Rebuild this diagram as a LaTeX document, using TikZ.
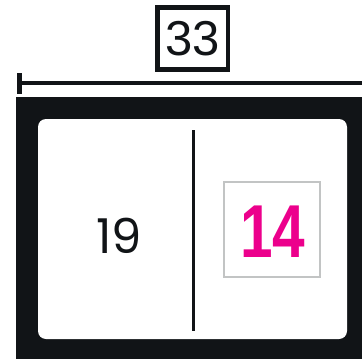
\documentclass[tikz,border=0pt]{standalone}
\usepackage{fontspec}
\setmainfont{Liberation Sans}
\newfontfamily\geofont{Poppins}
\newfontfamily\blockfont{Liberation Sans}
\definecolor{frameblack}{HTML}{111417}
\definecolor{pinkish}{HTML}{EC008C}
\definecolor{boxgray}{HTML}{C2C4C4}
\tikzset{
  labelbox/.style={draw=frameblack, line width=4.5pt, minimum width=70.5pt, minimum height=62pt, inner sep=0pt, font=\fontsize{49}{49}\selectfont, text=frameblack},
  dimline/.style={draw=frameblack, line width=4pt},
  tickline/.style={draw=frameblack, line width=5pt},
  divider/.style={draw=frameblack, line width=3pt},
  grayframe/.style={draw=boxgray, line width=2pt, minimum width=96pt, minimum height=95pt, inner sep=0pt},
}
\begin{document}
\begin{tikzpicture}[x=1pt,y=-1pt]
\useasboundingbox (0,0) rectangle (362,359);
% outer black frame
\fill[frameblack] (16,97) rectangle (362,359);
\fill[white, rounded corners=8pt] (38,119) rectangle (347,339);
% dimension line
\coordinate (dimL) at (19.5,83);
\coordinate (dimR) at (362,83);
\draw[dimline] (dimL) -- (dimR);
\coordinate (tickT) at (19.5,73);
\coordinate (tickB) at (19.5,94);
\draw[tickline] (tickT) -- (tickB);
% label 33
\node[labelbox] (total) at (192.5,38.5) {33};
% divider
\coordinate (divT) at (193,130);
\coordinate (divB) at (193,331);
\draw[divider] (divT) -- (divB);
% 19
\node[font=\geofont\fontsize{48}{48}\selectfont, text=frameblack, inner sep=0pt] (left) at (119,236) {19};
% 14 box
\node[grayframe] (rightbox) at (272,229.5) {};
\node[font=\blockfont\bfseries\fontsize{75}{75}\selectfont, text=pinkish, inner sep=0pt] (right) at (273,232) {\scalebox{0.78}[1]{14}};
\end{tikzpicture}
\end{document}
